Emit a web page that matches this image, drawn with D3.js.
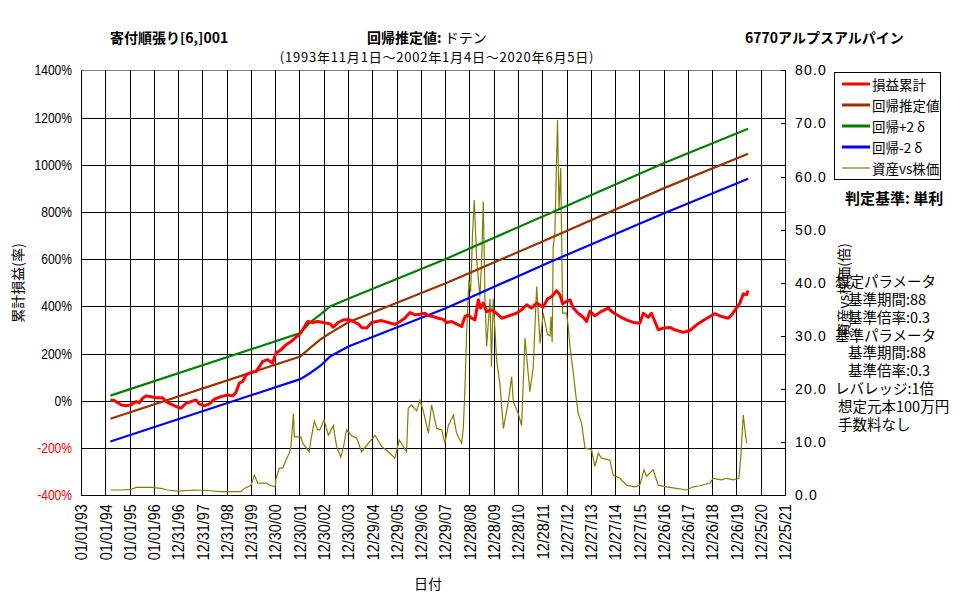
<!DOCTYPE html>
<html><head><meta charset="utf-8">
<script src="https://cdn.jsdelivr.net/npm/d3@7"></script>
<style>body{margin:0;background:#fff}svg{display:block}</style>
</head><body><svg id="c" width="977" height="600"></svg>
<script>
// ---------- data ----------
const xTickLabels = ["01/01/93","01/01/94","01/01/95","01/01/96","12/31/96","12/31/97","12/31/98","12/31/99","12/30/00","12/30/01","12/30/02","12/30/03","12/29/04","12/29/05","12/29/06","12/29/07","12/28/08","12/28/09","12/28/10","12/28/11","12/27/12","12/27/13","12/27/14","12/27/15","12/26/16","12/26/17","12/26/18","12/26/19","12/25/20","12/25/21"];
const leftTicks = [-400,-200,0,200,400,600,800,1000,1200,1400];
const rightTicks = [0,10,20,30,40,50,60,70,80];
const seriesNames = ["損益累計","回帰推定値","回帰+2 δ","回帰-2 δ","資産vs株価"];

// 損益累計 (%), x in decimal years
const profitYears = [1994.21,1994.37,1994.65,1994.85,1995.06,1995.27,1995.40,1995.54,1995.68,1995.88,1996.09,1996.36,1996.50,1996.71,1996.91,1997.12,1997.32,1997.53,1997.74,1997.87,1998.08,1998.29,1998.49,1998.77,1999.04,1999.25,1999.38,1999.52,1999.66,1999.80,2000.00,2000.21,2000.35,2000.48,2000.69,2000.89,2001.03,2001.24,2001.44,2001.65,2001.86,2001.99,2002.13,2002.34,2002.54,2002.75,2002.98,2003.26,2003.39,2003.60,2003.81,2004.01,2004.22,2004.42,2004.56,2004.77,2004.97,2005.18,2005.38,2005.66,2005.93,2006.14,2006.34,2006.55,2006.76,2006.96,2007.17,2007.31,2007.51,2007.72,2007.92,2008.06,2008.27,2008.47,2008.68,2008.82,2008.95,2009.09,2009.23,2009.37,2009.46,2009.57,2009.71,2009.91,2010.12,2010.33,2010.53,2010.74,2010.94,2011.15,2011.36,2011.56,2011.77,2012.04,2012.21,2012.39,2012.59,2012.73,2012.84,2013.00,2013.14,2013.28,2013.48,2013.69,2013.83,2013.96,2014.17,2014.44,2014.72,2014.92,2015.20,2015.47,2015.75,2016.02,2016.16,2016.37,2016.50,2016.64,2016.78,2016.98,2017.26,2017.46,2017.81,2018.08,2018.36,2018.63,2018.91,2019.11,2019.39,2019.66,2019.80,2020.00,2020.14,2020.28,2020.42,2020.48];
const profitValues = [4,2,-17,-21,-17,-3,-8,11,21,17,13,13,-3,-14,-24,-31,-10,-3,4,-13,-21,-13,7,18,25,21,35,75,82,110,120,124,145,167,174,160,202,216,237,251,270,280,301,336,332,336,332,326,312,332,343,345,336,326,311,308,332,336,340,332,324,336,350,374,364,367,371,360,357,350,345,332,336,326,315,357,364,350,343,428,393,414,378,385,371,350,357,364,371,386,407,393,414,397,431,442,467,449,411,421,428,393,371,354,336,379,360,379,393,374,357,343,332,329,371,354,371,336,301,308,311,301,290,298,322,340,357,369,357,350,364,393,414,453,449,467];

// regression lines (%)
const regYears  = [1994.21,2002.03,2002.43,2002.88,2003.26,2004.01,2008.05,2012.32,2017.02,2020.48];
const regCenter = [-76,188,223,261,287,333,499,689,901,1047];
const regUpper  = [22,287,332,367,400,432,602,795,1007,1152];
const regLower  = [-172,92,117,150,188,230,393,588,795,941];

// 資産vs株価 (倍), right axis
const ratioYears = [1994.21,1994.65,1995.06,1995.27,1995.61,1995.88,1996.29,1996.57,1996.98,1997.67,1998.22,1998.77,1999.59,1999.73,2000.00,2000.14,2000.28,2000.62,2000.83,2001.00,2001.03,2001.17,2001.31,2001.44,2001.58,2001.65,2001.75,2001.79,2002.06,2002.13,2002.40,2002.47,2002.61,2002.75,2002.84,2003.01,2003.19,2003.39,2003.53,2003.70,2003.81,2003.94,2004.15,2004.35,2004.56,2004.84,2005.11,2005.38,2005.66,2005.93,2006.11,2006.41,2006.48,2006.62,2006.83,2006.96,2007.10,2007.31,2007.44,2007.65,2007.86,2007.99,2008.13,2008.34,2008.47,2008.68,2008.75,2008.82,2008.89,2008.98,2009.05,2009.13,2009.20,2009.30,2009.43,2009.50,2009.57,2009.64,2009.71,2009.85,2009.91,2009.98,2010.12,2010.26,2010.40,2010.60,2010.74,2010.81,2011.01,2011.15,2011.29,2011.49,2011.63,2011.77,2011.91,2012.04,2012.21,2012.32,2012.36,2012.41,2012.45,2012.52,2012.59,2012.63,2012.69,2012.76,2012.84,2013.00,2013.07,2013.14,2013.28,2013.39,2013.48,2013.62,2013.76,2014.03,2014.17,2014.31,2014.44,2014.79,2014.92,2015.20,2015.47,2015.82,2016.02,2016.19,2016.30,2016.57,2016.78,2017.12,2017.53,2017.95,2018.22,2018.49,2018.91,2019.04,2019.39,2019.59,2019.87,2020.10,2020.18,2020.28,2020.35,2020.42];
const ratioValues = [1.0,1.0,1.1,1.5,1.5,1.5,1.3,1.0,0.8,1.0,0.9,0.7,0.7,1.3,1.9,3.8,2.3,2.3,1.8,1.6,3.2,5.1,5.1,6.6,7.9,9.2,15.4,11.0,11.0,9.8,8.2,10.4,13.9,12.3,12.3,14.2,11.3,13.1,9.2,7.2,9.0,12.3,11.2,10.8,8.2,9.8,11.3,9.2,8.2,7.0,10.4,8.2,16.4,17.0,15.9,17.9,15.9,11.7,17.0,12.6,12.3,9.8,13.1,15.1,11.7,9.8,12.8,20.5,31.1,40.5,38.3,49.3,55.6,44.3,37.4,43.7,55.3,37.0,28.0,37.0,24.2,37.0,25.5,20.8,12.6,17.6,22.3,17.6,15.4,13.1,29.6,19.5,24.2,39.3,28.6,34.3,30.4,30.0,33.6,28.8,46.8,49.3,63.1,70.7,53.7,61.6,34.3,34.3,31.8,28.0,23.0,18.6,15.4,13.6,8.9,8.6,5.4,7.9,7.0,6.6,3.8,3.2,1.9,1.6,1.9,4.8,3.6,4.8,1.9,1.6,1.3,1.0,1.6,1.8,2.3,3.2,2.9,3.2,2.9,3.2,7.3,15.1,12.3,9.8];

// ---------- layout ----------
const L = 81, R = 785, T = 70.3, B = 495.3;
const JP = "'Noto Sans CJK JP','Noto Sans',sans-serif";
const NUM = "'Liberation Sans',Arial,sans-serif";
const svg = d3.select("#c");

const parseTick = d3.timeParse("%m/%d/%y");
const tickDates = xTickLabels.map(parseTick);
const base = new Date(1993,0,1);
const toDate = y => new Date(+base + (y-1993)*365*86400000);

const x = d3.scaleTime().domain([tickDates[0], tickDates[tickDates.length-1]]).range([L, R]);
const yL = d3.scaleLinear().domain([-400,1400]).range([B, T]);
const yR = d3.scaleLinear().domain([0,80]).range([B, T]);

function condense(sel, f){ sel.each(function(){ const n=this.getComputedTextLength(); this.setAttribute("textLength", n*f); this.setAttribute("lengthAdjust","spacingAndGlyphs"); }); }

// left axis + horizontal grid
const gL = svg.append("g").attr("transform",`translate(${L},0)`)
  .call(d3.axisLeft(yL).tickValues(leftTicks).tickSize(-(R-L)).tickPadding(9).tickFormat(d=>d+"%"));
gL.select(".domain").remove();
gL.selectAll(".tick line").attr("stroke",d=>d===1400?"#808080":"#000").attr("shape-rendering","crispEdges");
gL.selectAll(".tick text").attr("font-family",NUM).attr("font-size",14).attr("fill",d=>d<0?"#f00":"#000");
condense(gL.selectAll(".tick text"),0.86);

// x axis + vertical grid
const gX = svg.append("g").attr("transform",`translate(0,${B})`)
  .call(d3.axisBottom(x).tickValues(tickDates).tickSize(-(B-T)).tickFormat(d3.timeFormat("%m/%d/%y")));
gX.select(".domain").attr("stroke","#000").attr("shape-rendering","crispEdges");
gX.selectAll(".tick line").attr("stroke","#000").attr("shape-rendering","crispEdges");
gX.selectAll(".tick text").attr("font-family",NUM).attr("font-size",16)
  .attr("transform","rotate(-90)").attr("text-anchor","end").attr("x",-9).attr("y",0).attr("dy","0.36em");
condense(gX.selectAll(".tick text"),0.9);

// left axis line
svg.append("line").attr("x1",L).attr("x2",L).attr("y1",T).attr("y2",B).attr("stroke","#000").attr("shape-rendering","crispEdges");

// right axis
const gR = svg.append("g").attr("transform",`translate(${R},0)`)
  .call(d3.axisRight(yR).tickValues(rightTicks).tickSize(-4).tickPadding(10).tickFormat(d3.format(".1f")));
gR.select(".domain").attr("stroke","#000").attr("shape-rendering","crispEdges");
gR.selectAll(".tick line").attr("stroke","#000").attr("shape-rendering","crispEdges");
gR.selectAll(".tick text").attr("font-family",NUM).attr("font-size",14).attr("letter-spacing","1.2px");

// series
const lineL = d3.line().x(d=>x(toDate(d[0]))).y(d=>yL(d[1]));
const lineR = d3.line().x(d=>x(toDate(d[0]))).y(d=>yR(d[1]));
const zip = (a,b)=>a.map((v,i)=>[v,b[i]]);

svg.append("path").attr("d",lineR(zip(ratioYears,ratioValues))).attr("fill","none").attr("stroke","#808000").attr("stroke-width",1.2);
svg.append("path").attr("d",lineL(zip(regYears,regLower))).attr("fill","none").attr("stroke","#0000ff").attr("stroke-width",2.2);
svg.append("path").attr("d",lineL(zip(regYears,regUpper))).attr("fill","none").attr("stroke","#008000").attr("stroke-width",2.2);
svg.append("path").attr("d",lineL(zip(regYears,regCenter))).attr("fill","none").attr("stroke","#993300").attr("stroke-width",2.2);
svg.append("path").attr("d",lineL(zip(profitYears,profitValues))).attr("fill","none").attr("stroke","#ff0000").attr("stroke-width",3).attr("stroke-linejoin","round");

// titles
svg.append("text").attr("x",110).attr("y",37).attr("dominant-baseline","central").attr("font-family",JP).attr("font-size",14).attr("font-weight","bold").text("寄付順張り[6,]001");
const t2 = svg.append("text").attr("x",367).attr("y",37).attr("dominant-baseline","central").attr("font-family",JP).attr("font-size",14);
t2.append("tspan").attr("font-weight","bold").text("回帰推定値: ");
t2.append("tspan").text("ドテン");
svg.append("text").attr("x",437).attr("y",56).attr("text-anchor","middle").attr("dominant-baseline","central").attr("font-family",JP).attr("font-size",13).attr("letter-spacing","0.8px").text("(1993年11月1日～2002年1月4日～2020年6月5日)");
svg.append("text").attr("x",745).attr("y",37).attr("dominant-baseline","central").attr("font-family",JP).attr("font-size",14).attr("font-weight","bold").text("6770アルプスアルパイン");

// axis titles
svg.append("text").attr("transform","translate(17,283) rotate(-90)").attr("text-anchor","middle").attr("dominant-baseline","central").attr("font-family",JP).attr("font-size",14).text("累計損益(率)");
svg.append("text").attr("transform","translate(843,290) rotate(-90)").attr("text-anchor","middle").attr("dominant-baseline","central").attr("font-family",JP).attr("font-size",14).text("資産vs株価(倍)");
svg.append("text").attr("x",428).attr("y",583).attr("text-anchor","middle").attr("dominant-baseline","central").attr("font-family",JP).attr("font-size",14).text("日付");

// legend
const legColors = ["#ff0000","#993300","#008000","#0000ff","#808000"];
const legWidths = [3,3,3,3,1.2];
svg.append("rect").attr("x",834.5).attr("y",72.5).attr("width",106).attr("height",107).attr("fill","#fff").attr("stroke","#000");
seriesNames.forEach((n,i)=>{
  const yy = 84 + i*21;
  svg.append("line").attr("x1",842).attr("x2",870).attr("y1",yy).attr("y2",yy).attr("stroke",legColors[i]).attr("stroke-width",legWidths[i]);
  svg.append("text").attr("x",872).attr("y",yy).attr("dominant-baseline","central").attr("font-family",JP).attr("font-size",13.5).text(n);
});
svg.append("text").attr("x",845).attr("y",197).attr("dominant-baseline","central").attr("font-family",JP).attr("font-size",15).attr("font-weight","bold").text("判定基準: 単利");

// parameter notes
const notes = [["想定パラメータ",835,280],["基準期間:88",848,298],["基準倍率:0.3",848,316],["基準パラメータ",835,334],["基準期間:88",848,351],["基準倍率:0.3",848,369],["レバレッジ:1倍",835,387],["想定元本100万円",838,405],["手数料なし",838,423]];
notes.forEach(([t,xx,yy])=>{
  svg.append("text").attr("x",xx).attr("y",yy).attr("dominant-baseline","central").attr("font-family",JP).attr("font-size",14.5).text(t);
});
</script></body></html>
